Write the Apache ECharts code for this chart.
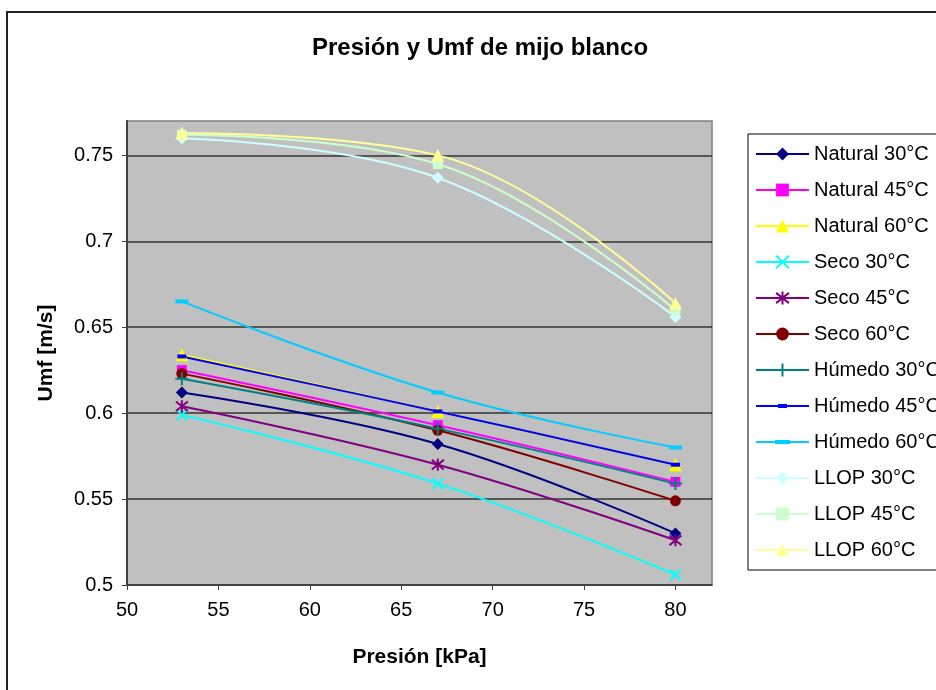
<!DOCTYPE html>
<html>
<head>
<meta charset="utf-8">
<script src="https://cdn.jsdelivr.net/npm/echarts@6/dist/echarts.min.js"></script>
<style>
  html, body { margin: 0; padding: 0; background: #ffffff; }
  #chart { width: 936px; height: 690px; }
</style>
</head>
<body>
<div id="chart"></div>
<script>
// Pressure (kPa) at which each series was measured
var presion = [53, 67, 80];

// Minimum fluidization velocity Umf (m/s) per sample condition
var natural30 = [0.612, 0.582, 0.530];
var natural45 = [0.625, 0.593, 0.560];
var natural60 = [0.634, 0.601, 0.570];
var seco30    = [0.599, 0.559, 0.506];
var seco45    = [0.604, 0.570, 0.526];
var seco60    = [0.623, 0.590, 0.549];
var humedo30  = [0.620, 0.591, 0.559];
var humedo45  = [0.633, 0.601, 0.570];
var humedo60  = [0.665, 0.612, 0.580];
var llop30    = [0.760, 0.737, 0.656];
var llop45    = [0.762, 0.745, 0.660];
var llop60    = [0.763, 0.750, 0.664];

var seriesNames = ['Natural 30°C', 'Natural 45°C', 'Natural 60°C',
                   'Seco 30°C', 'Seco 45°C', 'Seco 60°C',
                   'Húmedo 30°C', 'Húmedo 45°C', 'Húmedo 60°C',
                   'LLOP 30°C', 'LLOP 45°C', 'LLOP 60°C'];
var seriesValues = [natural30, natural45, natural60, seco30, seco45, seco60,
                    humedo30, humedo45, humedo60, llop30, llop45, llop60];

// Marker shapes that are only strokes
var SYM_X = 'path://M0,0L10,10M10,0L0,10';
var SYM_STAR = 'path://M1,1L9,9M9,1L1,9M5,0L5,10';
var SYM_PLUS = 'path://M5,0L5,10M0,5L10,5';

// Legend icons for the dash markers: a line with a short bar in the middle
var ICON_DASH_SHORT = 'path://M0,7L53,7L53,9L0,9ZM22,6L31,6L31,10L22,10Z';
var ICON_DASH_LONG = 'path://M0,7L53,7L53,9L0,9ZM19,6L34,6L34,10L19,10Z';

var styles = [
  { color: '#000080', symbol: 'diamond', size: 12 },
  { color: '#FF00FF', symbol: 'rect', size: 10 },
  { color: '#FFFF00', symbol: 'triangle', size: 13 },
  { color: '#00FFFF', symbol: SYM_X, size: 11, stroke: true },
  { color: '#800080', symbol: SYM_STAR, size: 12, stroke: true },
  { color: '#800000', symbol: 'circle', size: 11 },
  { color: '#008080', symbol: SYM_PLUS, size: 13, stroke: true },
  { color: '#0000FF', symbol: 'rect', size: [9, 4], icon: ICON_DASH_SHORT },
  { color: '#00CCFF', symbol: 'rect', size: [13, 4], icon: ICON_DASH_LONG },
  { color: '#CCFFFF', symbol: 'diamond', size: 12 },
  { color: '#CCFFCC', symbol: 'rect', size: 10 },
  { color: '#FFFF99', symbol: 'triangle', size: 13 }
];

var FONT = 'Liberation Sans, Arial, sans-serif';

var series = seriesNames.map(function (name, i) {
  var st = styles[i];
  return {
    name: name,
    type: 'line',
    smooth: 0.4,
    data: presion.map(function (p, j) { return [p, seriesValues[i][j]]; }),
    symbol: st.symbol,
    symbolSize: st.size,
    showAllSymbol: true,
    lineStyle: { color: st.color, width: 2 },
    itemStyle: st.stroke
      ? { color: st.color, borderColor: st.color, borderWidth: 2 }
      : { color: st.color, borderWidth: 0 },
    emphasis: { disabled: true },
    animation: false
  };
});

var legendData = seriesNames.map(function (name, i) {
  return styles[i].icon ? { name: name, icon: styles[i].icon } : { name: name };
});

var chart = echarts.init(document.getElementById('chart'), null, { renderer: 'canvas' });
chart.setOption({
  animation: false,
  backgroundColor: '#ffffff',
  textStyle: { fontFamily: FONT },
  title: {
    text: 'Presión y Umf de mijo blanco',
    left: 475,
    textAlign: 'center',
    top: 31,
    textStyle: { fontFamily: FONT, fontSize: 24, fontWeight: 'bold', color: '#000' }
  },
  graphic: [{
    type: 'rect',
    shape: { x: 7, y: 12, width: 1000, height: 1000 },
    style: { fill: 'none', stroke: '#222', lineWidth: 2 },
    silent: true,
    z: -10
  }],
  legend: {
    orient: 'vertical',
    left: 748,
    top: 134,
    padding: [10, 7, 10, 7],
    itemWidth: 53,
    itemHeight: 16,
    itemGap: 16,
    backgroundColor: '#ffffff',
    borderColor: '#000',
    borderWidth: 1,
    borderRadius: 0,
    data: legendData,
    textStyle: { fontFamily: FONT, fontSize: 20, color: '#000' },
    selectedMode: false
  },
  grid: {
    left: 127, right: 224, top: 121, bottom: 105,
    show: true,
    backgroundColor: '#C0C0C0',
    borderColor: '#808080',
    borderWidth: 1.5
  },
  xAxis: {
    type: 'value',
    min: 50, max: 82, interval: 5,
    name: 'Presión [kPa]',
    nameLocation: 'middle',
    nameGap: 62,
    nameTextStyle: { fontFamily: FONT, fontSize: 21, fontWeight: 'bold', color: '#000' },
    axisLine: { show: true, onZero: false, lineStyle: { color: '#404040', width: 1.5 } },
    axisTick: { show: true, inside: false, length: 5, lineStyle: { color: '#404040' } },
    axisLabel: { fontFamily: FONT, fontSize: 20, color: '#000', margin: 15, showMaxLabel: false },
    splitLine: { show: false }
  },
  yAxis: {
    type: 'value',
    min: 0.5, max: 0.77, interval: 0.05,
    name: 'Umf [m/s]',
    nameLocation: 'middle',
    nameGap: 70,
    nameTextStyle: { fontFamily: FONT, fontSize: 21, fontWeight: 'bold', color: '#000' },
    axisLine: { show: true, lineStyle: { color: '#404040', width: 2 } },
    axisTick: { show: true, inside: false, length: 5, lineStyle: { color: '#404040' } },
    axisLabel: { fontFamily: FONT, fontSize: 20, color: '#000', margin: 14, showMaxLabel: false },
    splitLine: { show: true, showMaxLine: false, lineStyle: { color: '#333', width: 1.5 } }
  },
  series: series
});
</script>
</body>
</html>
